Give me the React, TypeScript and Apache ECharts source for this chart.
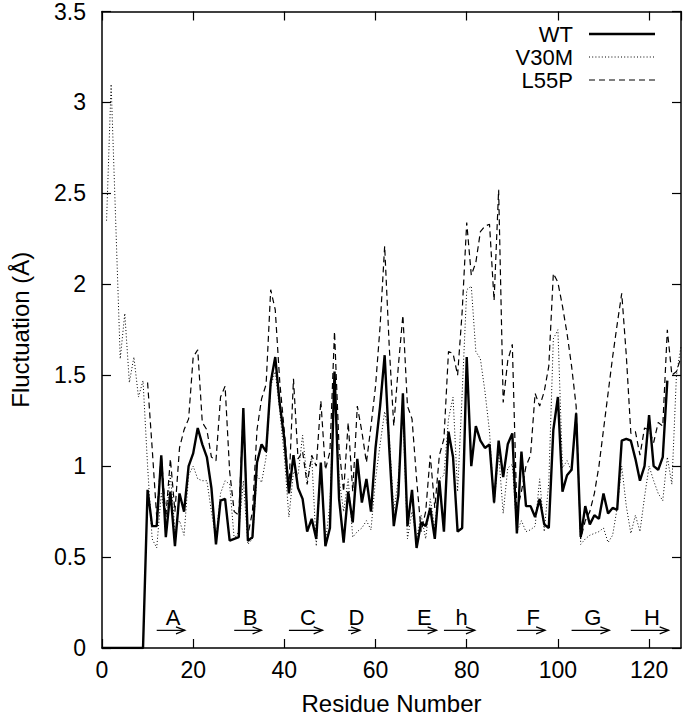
import React, { useEffect, useRef } from "react";
import * as echarts from "echarts";

const FONT = "'Liberation Sans', Arial, Helvetica, sans-serif";

// Residue number of first value in each series
const wtStart = 0;
const v30mStart = 1;
const l55pStart = 10;

const wtValues = [
  0, 0, 0, 0, 0, 0, 0, 0, 0, 0,
  0.87, 0.67, 0.67, 1.06, 0.61, 0.86, 0.56, 0.85, 0.75, 1.0,
  1.07, 1.21, 1.12, 1.05, 0.88, 0.57, 0.81, 0.82, 0.59, 0.6,
  0.61, 1.32, 0.59, 0.61, 1.02, 1.12, 1.08, 1.46, 1.6, 1.34,
  1.15, 0.85, 1.06, 0.88, 0.82, 0.64, 0.71, 0.6, 1.02, 0.56,
  0.66, 1.52, 0.82, 0.58, 0.86, 0.69, 1.04, 0.8, 0.93, 0.75,
  1.1, 1.33, 1.61, 1.1, 0.67, 0.84, 1.4, 0.67, 0.87, 0.55,
  0.69, 0.67, 0.77, 0.6, 0.92, 0.64, 1.19, 1.05, 0.64, 0.66,
  1.6, 1.0, 1.22, 1.14, 1.1, 1.12, 0.8, 1.14, 0.94, 1.12,
  1.18, 0.63, 1.08, 0.78, 0.78, 0.72, 0.82, 0.68, 0.66, 1.2,
  1.38, 0.86, 0.95, 0.98, 1.29, 0.61, 0.78, 0.68, 0.73, 0.71,
  0.85, 0.74, 0.77, 0.76, 1.14, 1.15, 1.14, 1.04, 0.92, 1.0,
  1.28, 1.0, 0.98, 1.05, 1.47,
];

const v30mValues = [
  2.35, 3.1, 2.35, 1.59, 1.84, 1.46, 1.6, 1.38, 1.47,
  1.0, 0.6, 0.55, 0.85, 0.7, 0.95, 0.65, 0.7, 0.62, 0.95,
  1.0, 0.93, 0.92, 0.92, 0.75, 0.6, 0.85, 0.92, 0.9, 0.6,
  0.64, 0.92, 0.57, 0.6, 0.95, 0.91, 1.05, 1.44, 1.52, 1.3,
  1.05, 0.72, 0.97, 0.95, 1.17, 0.92, 1.05, 0.56, 1.0, 0.58,
  0.79, 1.5, 0.93, 0.75, 0.93, 0.61, 0.64, 0.66, 0.7, 0.65,
  0.93, 1.12, 1.3, 1.17, 0.75, 0.93, 1.3, 0.6, 0.75, 0.6,
  0.73, 0.6, 0.82, 0.66, 0.93, 0.95, 1.26, 1.38, 0.86, 1.4,
  1.97, 1.99, 1.63, 1.59, 1.41, 1.19, 0.79, 1.07, 0.74, 0.99,
  1.01, 0.64, 0.7, 0.64, 0.65, 0.67, 0.93, 0.64, 0.91, 1.7,
  1.75, 0.99, 1.03, 0.97, 1.3, 0.57, 0.6, 0.62, 0.63, 0.64,
  0.66, 0.58, 0.62, 0.77, 1.0, 0.78, 0.63, 0.73, 0.64, 0.83,
  1.0, 0.92, 0.85, 0.81, 1.05, 0.9, 1.5, 1.66,
];

const l55pValues = [
  1.46, 1.1, 0.72, 1.06, 0.72, 1.04, 0.75, 1.1, 1.2, 1.26,
  1.6, 1.64, 1.24, 1.2, 1.05, 1.03, 1.38, 1.44, 0.97, 0.75,
  0.73, 1.3, 0.62, 0.75, 1.2, 1.37, 1.45, 1.97, 1.86, 1.46,
  1.19, 0.88, 1.48, 1.04, 1.08, 0.9, 1.06, 1.0, 1.36, 0.98,
  1.08, 1.74, 1.1, 0.86, 1.24, 0.86, 1.33, 1.19, 1.02, 1.22,
  1.44, 1.77, 2.21, 1.66, 1.22, 1.55, 1.83, 1.33, 1.26, 0.93,
  0.64, 0.75, 1.06, 0.77, 1.06, 1.15, 1.63, 1.62, 1.5, 1.85,
  2.34, 2.05, 2.12, 2.29, 2.32, 2.33, 1.91, 2.52, 1.35, 1.58,
  1.67, 0.75, 0.86, 1.0, 1.06, 1.4, 1.33, 1.41, 1.55, 2.06,
  2.01, 1.88, 1.73, 1.55, 1.33, 0.6, 0.7, 0.75, 0.85, 1.0,
  1.2, 1.4, 1.6, 1.78, 1.95, 1.61, 1.18, 1.19, 1.06, 1.21,
  1.2, 1.13, 1.24, 1.22, 1.75, 1.5, 1.52, 1.6,
];

const seriesNames = ["WT", "V30M", "L55P"];

// beta strands: label, start residue, end residue
const strandLabels = ["A", "B", "C", "D", "E", "h", "F", "G", "H"];
const strandStarts = [12, 29, 41, 54, 67, 75, 91, 103, 116];
const strandEnds = [18.2, 35, 48.4, 56.6, 73.4, 81.8, 97.2, 111.3, 124.3];

const xTicks = { min: 0, max: 127, interval: 20 };
const yTicks = { min: 0, max: 3.5, interval: 0.5 };

function toPairs(start: number, vals: number[]) {
  return vals.map((v, i) => [start + i, v]);
}

const lineStyles: any[] = [
  { color: "#000", width: 2.4, type: "solid" },
  { color: "#000", width: 1, type: [1, 2.2] },
  { color: "#000", width: 1.2, type: [6, 4] },
];

export default function App() {
  const ref = useRef<HTMLDivElement>(null);

  useEffect(() => {
    if (!ref.current) return;
    const chart = echarts.init(ref.current, undefined, { renderer: "svg" });

    const axisLine = { onZero: false, lineStyle: { color: "#000", width: 1.5 } };
    const tick = { inside: true, length: 9, lineStyle: { color: "#000", width: 1.2 } };
    const labelStyle = { color: "#000", fontSize: 23, fontFamily: FONT };

    const legendItems: any[] = [];
    seriesNames.forEach((n, i) => {
      const cy = 34 + i * 23;
      legendItems.push({
        type: "text",
        style: {
          text: n,
          x: 573,
          y: cy,
          align: "right",
          verticalAlign: "middle",
          font: `22px ${FONT}`,
          fill: "#000",
        },
      });
      legendItems.push({
        type: "line",
        shape: { x1: 589, y1: cy, x2: 655, y2: cy },
        style: {
          stroke: "#000",
          lineWidth: lineStyles[i].width,
          lineDash: Array.isArray(lineStyles[i].type) ? lineStyles[i].type : null,
        },
      });
    });

    const strandData = strandStarts.map((s, i) => [s, strandEnds[i]]);

    chart.setOption({
      animation: false,
      backgroundColor: "#fff",
      grid: { left: 96, right: 3, top: 11, bottom: 69.5 },
      xAxis: [
        {
          type: "value",
          ...xTicks,
          position: "bottom",
          axisLine,
          axisTick: tick,
          splitLine: { show: false },
          axisLabel: { ...labelStyle, margin: 10, showMaxLabel: false },
          name: "Residue Number",
          nameLocation: "middle",
          nameGap: 43,
          nameTextStyle: { color: "#000", fontSize: 24, fontFamily: FONT },
        },
        {
          type: "value",
          ...xTicks,
          position: "top",
          axisLine,
          axisTick: tick,
          splitLine: { show: false },
          axisLabel: { show: false },
        },
      ],
      yAxis: [
        {
          type: "value",
          ...yTicks,
          position: "left",
          axisLine,
          axisTick: tick,
          splitLine: { show: false },
          axisLabel: { ...labelStyle, margin: 16 },
          name: "Fluctuation (Å)",
          nameLocation: "middle",
          nameGap: 70,
          nameRotate: 90,
          nameTextStyle: { color: "#000", fontSize: 24, fontFamily: FONT },
        },
        {
          type: "value",
          ...yTicks,
          position: "right",
          axisLine,
          axisTick: tick,
          splitLine: { show: false },
          axisLabel: { show: false },
        },
      ],
      series: [
        {
          name: "L55P",
          type: "line",
          data: toPairs(l55pStart, l55pValues),
          symbol: "none",
          lineStyle: lineStyles[2],
          z: 2,
        },
        {
          name: "V30M",
          type: "line",
          data: toPairs(v30mStart, v30mValues),
          symbol: "none",
          lineStyle: lineStyles[1],
          z: 3,
        },
        {
          name: "WT",
          type: "line",
          data: toPairs(wtStart, wtValues),
          symbol: "none",
          lineStyle: lineStyles[0],
          z: 4,
        },
        {
          type: "custom",
          data: strandData,
          clip: false,
          z: 5,
          renderItem: (params: any, api: any) => {
            const s = api.value(0);
            const e = api.value(1);
            const p1 = api.coord([s, 0.097]);
            const p2 = api.coord([e, 0.097]);
            const lab = api.coord([(s + e) / 2 + 0.5, 0.168]);
            return {
              type: "group",
              children: [
                {
                  type: "line",
                  shape: { x1: p1[0], y1: p1[1], x2: p2[0], y2: p2[1] },
                  style: { stroke: "#000", lineWidth: 1.2 },
                },
                {
                  type: "polyline",
                  shape: {
                    points: [
                      [p2[0] - 9, p2[1] - 3.5],
                      [p2[0], p2[1]],
                      [p2[0] - 9, p2[1] + 3.5],
                    ],
                  },
                  style: { stroke: "#000", fill: null, lineWidth: 1.2 },
                },
                {
                  type: "text",
                  style: {
                    text: strandLabels[params.dataIndex],
                    x: lab[0],
                    y: lab[1],
                    align: "center",
                    verticalAlign: "middle",
                    font: `22px ${FONT}`,
                    fill: "#000",
                  },
                },
              ],
            };
          },
        },
      ],
      graphic: legendItems,
    });

    return () => chart.dispose();
  }, []);

  return (
    <div
      ref={ref}
      style={{ position: "fixed", left: 0, top: 0, width: 684, height: 720, background: "#fff" }}
    />
  );
}
